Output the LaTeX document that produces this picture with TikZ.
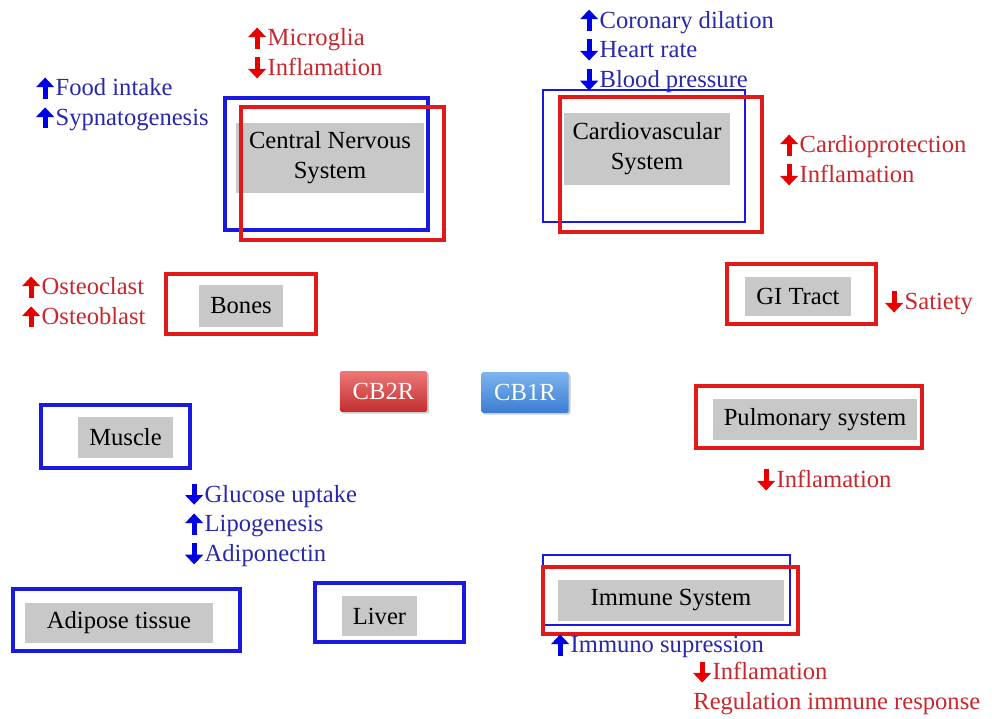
\documentclass[tikz,border=0pt]{standalone}
\usepackage{fontspec}
\setmainfont{Liberation Serif}
\newfontfamily\timesfont{Liberation Serif}
\usetikzlibrary{arrows.meta,shadows}
\definecolor{frblue}{RGB}{25,25,225}
\definecolor{frred}{RGB}{225,25,25}
\definecolor{txblue}{RGB}{40,40,170}
\definecolor{txred}{RGB}{200,40,45}
\definecolor{arblue}{RGB}{0,0,230}
\definecolor{arred}{RGB}{230,0,0}
\definecolor{organgray}{RGB}{200,200,200}
\definecolor{cbtwotop}{RGB}{238,120,120}
\definecolor{cbtwobot}{RGB}{195,45,45}
\definecolor{cbonetop}{RGB}{125,180,240}
\definecolor{cbonebot}{RGB}{60,125,210}
\newcommand{\upar}[1]{\tikz[x=1pt,y=1pt,baseline=0pt]\draw[#1,line width=3pt,-{Triangle[width=10pt,length=5.5pt]}] (5,-1.5) -- (5,10.5);\hspace{1pt}}
\newcommand{\dnar}[1]{\tikz[x=1pt,y=1pt,baseline=0pt]\draw[#1,line width=3pt,-{Triangle[width=10pt,length=5.5pt]}] (5,10.5) -- (5,-1.5);\hspace{1pt}}
\tikzset{
	every node/.style={font=\timesfont\fontsize{14}{17}\selectfont},
	organ/.style 2 args={fill=organgray,inner sep=0pt,align=center,minimum width=#1*0.02cm,minimum height=#2*0.02cm},
	bluefr/.style 2 args={draw=frblue,line width=2.3pt,minimum width=#1*0.02cm,minimum height=#2*0.02cm},
	thinfr/.style 2 args={draw=frblue,line width=0.9pt,minimum width=#1*0.02cm,minimum height=#2*0.02cm},
	redfr/.style 2 args={draw=frred,line width=2.3pt,minimum width=#1*0.02cm,minimum height=#2*0.02cm},
	redlbl/.style={anchor=west,align=left,inner sep=0pt,text=txred},
	bluelbl/.style={anchor=west,align=left,inner sep=0pt,text=txblue},
	receptor/.style={text=white,minimum width=1.75cm,minimum height=0.82cm,inner sep=0pt,rounded corners=1pt,drop shadow={shadow xshift=1pt,shadow yshift=-1pt,opacity=0.4}}
}
\begin{document}
\begin{tikzpicture}[x=0.02cm,y=-0.02cm]
	\useasboundingbox (0,0) rectangle (992,719);
	%organs
	\node[organ={188}{70}] (cns) at (330,158) {Central Nervous\\System};
	\node[organ={166}{72}] (cardio) at (647,149) {Cardiovascular\\System};
	\node[organ={84}{42}] (bones) at (241,306) {Bones};
	\node[organ={106}{39}] (gi) at (798,296.5) {GI Tract};
	\node[organ={204}{41}] (pulm) at (815,419.5) {Pulmonary system};
	\node[organ={95}{41}] (muscle) at (125.5,437.5) {Muscle};
	\node[organ={188}{40}] (adipose) at (119,623) {Adipose tissue};
	\node[organ={75}{40}] (liver) at (379.5,616) {Liver};
	\node[organ={226}{41}] (immune) at (671,600.5) {Immune System};
	%frames
	\node[bluefr={203}{132}] (cnsB) at (326.5,164) {};
	\node[redfr={203}{133}] (cnsR) at (342.5,173.5) {};
	\node[thinfr={202}{132}] (cardioB) at (644,156) {};
	\node[redfr={202}{135}] (cardioR) at (661,164.5) {};
	\node[redfr={150}{60}] (bonesR) at (241,304) {};
	\node[redfr={149}{60}] (giR) at (801.5,294) {};
	\node[redfr={226}{62}] (pulmR) at (809,417) {};
	\node[bluefr={149}{63}] (muscleB) at (115.5,436.5) {};
	\node[bluefr={227}{62}] (adiposeB) at (126.5,620) {};
	\node[bluefr={149}{59}] (liverB) at (389.5,612.5) {};
	\node[thinfr={247}{70}] (immuneB) at (666.5,590) {};
	\node[redfr={255}{67}] (immuneR) at (670.5,600.5) {};
	%receptors
	\node[receptor,top color=cbtwotop,bottom color=cbtwobot] (cb2r) at (383.5,391.5) {CB2R};
	\node[receptor,top color=cbonetop,bottom color=cbonebot] (cb1r) at (525,392.5) {CB1R};
	%effects
	\node[redlbl] (cnsRed) at (248,53) {\upar{arred}Microglia\\\dnar{arred}Inflamation};
	\node[bluelbl] (cnsBlue) at (36,103) {\upar{arblue}Food intake\\\upar{arblue}Sypnatogenesis};
	\node[bluelbl] (cardioBlue) at (580,50) {\upar{arblue}Coronary dilation\\\dnar{arblue}Heart rate\\\dnar{arblue}Blood pressure};
	\node[redlbl] (cardioRed) at (780,160) {\upar{arred}Cardioprotection\\\dnar{arred}Inflamation};
	\node[redlbl] (bonesRed) at (22,302) {\upar{arred}Osteoclast\\\upar{arred}Osteoblast};
	\node[redlbl] (giRed) at (885,302) {\dnar{arred}Satiety};
	\node[redlbl] (pulmRed) at (757,480) {\dnar{arred}Inflamation};
	\node[bluelbl] (metBlue) at (185,524) {\dnar{arblue}Glucose uptake\\\upar{arblue}Lipogenesis\\\dnar{arblue}Adiponectin};
	\node[bluelbl] (immuneBlue) at (551,645) {\upar{arblue}Immuno supression};
	\node[redlbl] (immuneRed) at (693,687) {\dnar{arred}Inflamation\\Regulation immune response};
\end{tikzpicture}
\end{document}
